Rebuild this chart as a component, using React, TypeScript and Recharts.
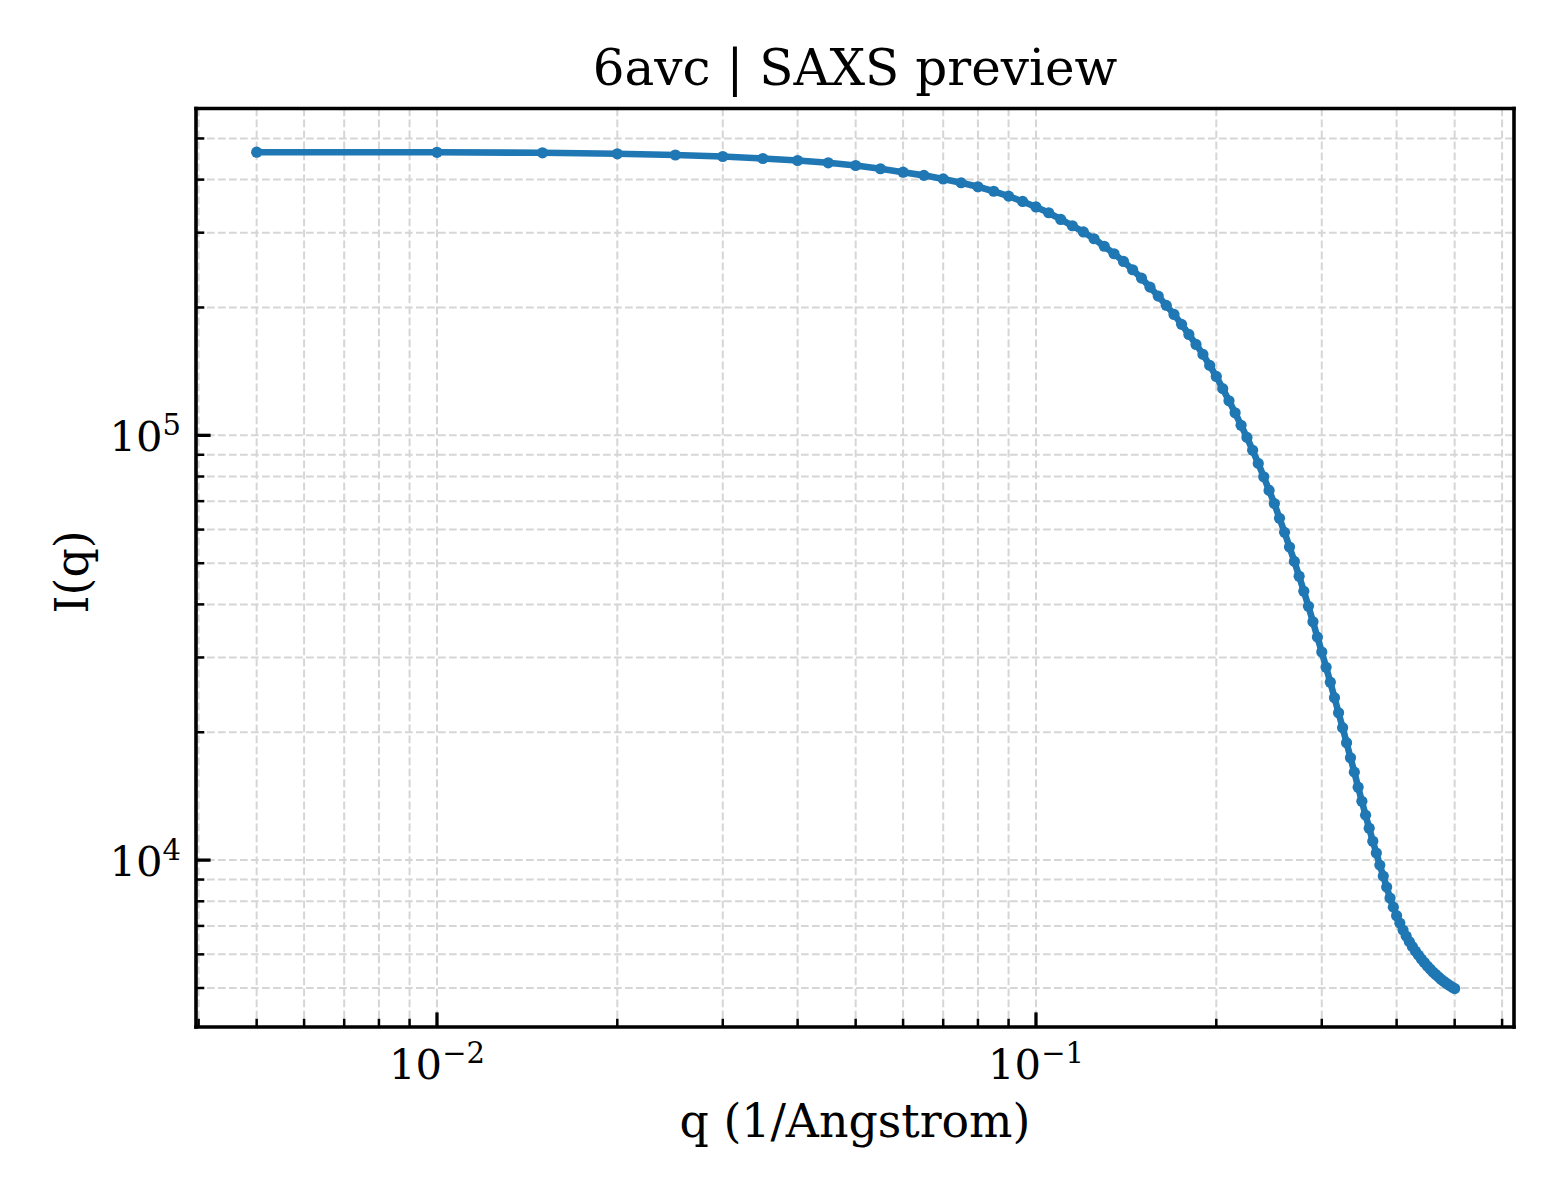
import { LineChart, Line, XAxis, YAxis, CartesianGrid, ReferenceLine } from 'recharts';

const qValues = [
  0.005, 0.01, 0.015, 0.02, 0.025, 0.03, 0.035, 0.04, 0.045, 0.05,
  0.055, 0.06, 0.065, 0.07, 0.075, 0.08, 0.085, 0.09, 0.095, 0.1,
  0.105, 0.11, 0.115, 0.12, 0.125, 0.13, 0.135, 0.14, 0.145, 0.15,
  0.155, 0.16, 0.165, 0.17, 0.175, 0.18, 0.185, 0.19, 0.195, 0.2,
  0.205, 0.21, 0.215, 0.22, 0.225, 0.23, 0.235, 0.24, 0.245, 0.25,
  0.255, 0.26, 0.265, 0.27, 0.275, 0.28, 0.285, 0.29, 0.295, 0.3,
  0.305, 0.31, 0.315, 0.32, 0.325, 0.33, 0.335, 0.34, 0.345, 0.35,
  0.355, 0.36, 0.365, 0.37, 0.375, 0.38, 0.385, 0.39, 0.395, 0.4,
  0.405, 0.41, 0.415, 0.42, 0.425, 0.43, 0.435, 0.44, 0.445, 0.45,
  0.455, 0.46, 0.465, 0.47, 0.475, 0.48, 0.485, 0.49, 0.495, 0.5,
];

const intensity = [
  464100, 463800, 462600, 460100, 457100, 453400, 448500, 443700, 438200, 431800,
  424200, 416400, 409300, 401400, 393200, 384800, 375500, 365700, 355300, 344900,
  334200, 322300, 311500, 301200, 290300, 278700, 267600, 256700, 245400, 234500,
  223300, 212700, 202300, 192600, 182500, 172800, 163700, 155100, 146100, 137600,
  128800, 120600, 113000, 105600, 98900, 92200, 85900, 79900, 74200, 69100,
  63800, 59100, 54600, 50500, 46600, 42950, 39600, 36400, 33500, 30900,
  28450, 26230, 24120, 22230, 20500, 18900, 17420, 16110, 14850, 13760,
  12760, 11890, 11080, 10390, 9733, 9170, 8640, 8140, 7750, 7400,
  7107, 6843, 6624, 6430, 6258, 6107, 5976, 5848, 5739, 5631,
  5540, 5451, 5377, 5305, 5234, 5177, 5121, 5072, 5025, 4985,
];

const xTicks = [
  0.004, 0.005, 0.006, 0.007, 0.008, 0.009, 0.01,
  0.02, 0.03, 0.04, 0.05, 0.06, 0.07, 0.08, 0.09, 0.1,
  0.2, 0.3, 0.4, 0.5, 0.6,
];
const yTicks = [
  5000, 6000, 7000, 8000, 9000, 10000,
  20000, 30000, 40000, 50000, 60000, 70000, 80000, 90000, 100000,
  200000, 300000, 400000, 500000,
];

const xDomain = [0.00396, 0.6281];
const yDomain = [4047, 588100];

const data = qValues.map((q, i) => ({ q, I: intensity[i] }));

const FONT = '"DejaVu Serif", serif';
const BLUE = '#1f77b4';

const isMajor = (v: number) => Math.abs(Math.log10(v) - Math.round(Math.log10(v))) < 1e-9;
const expText = (v: number) => {
  const e = Math.round(Math.log10(v));
  return e < 0 ? `\u2212${-e}` : `${e}`;
};

const XTick = (props: any) => {
  const { x, y, payload } = props;
  const v = payload.value;
  const major = isMajor(v);
  return (
    <g>
      <line x1={x} x2={x} y1={y} y2={y - (major ? 14.6 : 8.3)} stroke="#000" strokeWidth={major ? 3.3 : 2.5} />
      {major && (
        <text x={x} y={y + 52} textAnchor="middle" fontFamily={FONT} fontSize={41.7} fill="#000">
          10<tspan dy={-16} fontSize={29}>{expText(v)}</tspan>
        </text>
      )}
    </g>
  );
};

const YTick = (props: any) => {
  const { x, y, payload } = props;
  const v = payload.value;
  const major = isMajor(v);
  return (
    <g>
      <line x1={x} x2={x + (major ? 14.6 : 8.3)} y1={y} y2={y} stroke="#000" strokeWidth={major ? 3.3 : 2.5} />
      {major && (
        <text x={x - 15} y={y + 16} textAnchor="end" fontFamily={FONT} fontSize={41.7} fill="#000">
          10<tspan dy={-16} fontSize={29}>{expText(v)}</tspan>
        </text>
      )}
    </g>
  );
};

const frame = { stroke: '#000', strokeWidth: 3.6, strokeLinecap: 'square' as const };

export default function App() {
  return (
    <div style={{ position: 'relative', width: 1544, height: 1184 }}>
      <LineChart width={1544} height={1184} data={data} margin={{ top: 100.5, right: 38, bottom: 95, left: 78 }}>
        <CartesianGrid stroke="#d6d6d6" strokeWidth={2} strokeDasharray="7.7 3.3" />
        <XAxis
          dataKey="q"
          type="number"
          scale="log"
          domain={xDomain}
          allowDataOverflow
          ticks={xTicks}
          interval={0}
          tick={<XTick />}
          tickLine={false}
          tickSize={0}
          tickMargin={0}
          height={70}
          axisLine={frame}
        />
        <YAxis
          type="number"
          scale="log"
          domain={yDomain}
          allowDataOverflow
          ticks={yTicks}
          interval={0}
          tick={<YTick />}
          tickLine={false}
          tickSize={0}
          tickMargin={0}
          width={110}
          axisLine={frame}
        />
        <Line
          type="linear"
          dataKey="I"
          stroke={BLUE}
          strokeWidth={6.6}
          strokeLinejoin="round"
          dot={{ r: 5.6, fill: BLUE, stroke: BLUE, strokeWidth: 0 }}
          activeDot={false}
          isAnimationActive={false}
        />
        <ReferenceLine y={yDomain[1]} ifOverflow="visible" {...frame} />
        <ReferenceLine x={xDomain[1]} ifOverflow="visible" {...frame} />
      </LineChart>
      <svg width={1544} height={1184} style={{ position: 'absolute', left: 0, top: 0, pointerEvents: 'none' }}>
        <text x={847} y={77} textAnchor="middle" fontFamily={FONT} fontSize={50} fill="#000">
          6avc | SAXS preview
        </text>
        <text x={847} y={1129} textAnchor="middle" fontFamily={FONT} fontSize={45.8} fill="#000">
          q (1/Angstrom)
        </text>
        <text
          x={80}
          y={564}
          textAnchor="middle"
          fontFamily={FONT}
          fontSize={45.8}
          fill="#000"
          transform="rotate(-90 80 564)"
        >
          I(q)
        </text>
      </svg>
    </div>
  );
}
